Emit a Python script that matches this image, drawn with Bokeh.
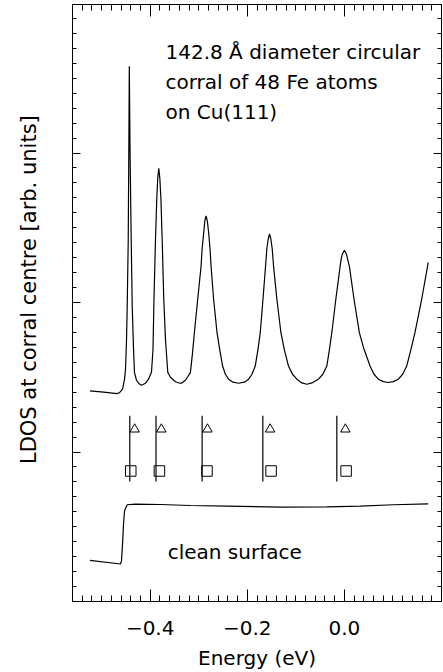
import numpy as np
from bokeh.plotting import figure
from bokeh.models import Label, LinearAxis, FixedTicker, SingleIntervalTicker, Range1d
from bokeh.embed import file_html
from bokeh.resources import INLINE

# ---- data ----
corral_energy = [
    -0.5241, -0.4960, -0.4678, -0.4631, -0.4569, -0.4528, -0.4508, -0.4487, -0.4473, -0.4452,
    -0.4440, -0.4430, -0.4415, -0.4391, -0.4370, -0.4343, -0.4323, -0.4282, -0.4230, -0.4179,
    -0.4097, -0.4035, -0.3973, -0.3942, -0.3922, -0.3891, -0.3865, -0.3845, -0.3823, -0.3801,
    -0.3778, -0.3753, -0.3720, -0.3685, -0.3638, -0.3583, -0.3480, -0.3418, -0.3357, -0.3274,
    -0.3172, -0.3131, -0.3090, -0.3022, -0.2952, -0.2931, -0.2898, -0.2875, -0.2849, -0.2823,
    -0.2795, -0.2767, -0.2746, -0.2693, -0.2623, -0.2569, -0.2508, -0.2452, -0.2384, -0.2294,
    -0.2179, -0.2062, -0.1973, -0.1903, -0.1836, -0.1780, -0.1733, -0.1677, -0.1624, -0.1597,
    -0.1567, -0.1542, -0.1517, -0.1487, -0.1459, -0.1390, -0.1307, -0.1239, -0.1151, -0.1069,
    -0.0978, -0.0876, -0.0773, -0.0670, -0.0534, -0.0444, -0.0362, -0.0308, -0.0259, -0.0177,
    -0.0088, -0.0068, -0.0043, 0.0000, 0.0043, 0.0068, 0.0103, 0.0199, 0.0308, 0.0405,
    0.0528, 0.0610, 0.0699, 0.0802, 0.0904, 0.1007, 0.1110, 0.1200, 0.1283, 0.1371,
    0.1453, 0.1591, 0.1727]
corral_ldos = [
    1.409, 1.400, 1.391, 1.397, 1.420, 1.487, 1.553, 1.753, 1.975, 2.420,
    3.020, 3.580, 3.020, 2.420, 1.975, 1.687, 1.531, 1.480, 1.457, 1.447,
    1.460, 1.487, 1.533, 1.687, 2.020, 2.420, 2.687, 2.830, 2.898, 2.830,
    2.687, 2.420, 2.020, 1.753, 1.533, 1.500, 1.470, 1.463, 1.460, 1.480,
    1.531, 1.653, 1.798, 2.020, 2.242, 2.356, 2.465, 2.545, 2.580, 2.545,
    2.465, 2.356, 2.242, 2.020, 1.798, 1.687, 1.575, 1.520, 1.487, 1.467,
    1.460, 1.467, 1.487, 1.520, 1.575, 1.687, 1.798, 2.020, 2.242, 2.360,
    2.430, 2.458, 2.430, 2.360, 2.242, 2.020, 1.798, 1.687, 1.575, 1.520,
    1.487, 1.462, 1.453, 1.462, 1.487, 1.520, 1.575, 1.687, 1.798, 2.020,
    2.242, 2.288, 2.323, 2.349, 2.323, 2.288, 2.242, 2.020, 1.798, 1.687,
    1.575, 1.520, 1.487, 1.471, 1.465, 1.471, 1.487, 1.520, 1.575, 1.687,
    1.798, 2.020, 2.269]

clean_energy = [-0.5241, -0.4611, -0.4590, -0.4569, -0.4549, -0.4528, -0.4473, -0.4302,
                -0.3788, -0.3172, -0.2417, -0.1322, -0.0362, 0.0323, 0.1007, 0.1727]
clean_ldos = [0.275, 0.251, 0.273, 0.387, 0.520, 0.607, 0.647, 0.651,
              0.649, 0.642, 0.638, 0.631, 0.633, 0.638, 0.647, 0.653]

level_energy = [-0.442, -0.388, -0.293, -0.168, -0.0156]
level_bottom = [0.802] * 5
level_top = [1.242] * 5
triangle_energy = [-0.432, -0.377, -0.282, -0.153, 0.002]
triangle_y = [1.152] * 5
square_energy = [-0.440, -0.381, -0.283, -0.151, 0.0035]
square_y = [0.873] * 5

x_major = [-0.4, -0.2, 0.0]
x_labels = {-0.4: "\u22120.4", -0.2: "\u22120.2", 0.0: "0.0"}
x_minor = [round(v, 2) for v in np.arange(-0.56, 0.2001, 0.02)]

FONT = "DejaVu Sans"

p = figure(width=443, height=672, output_backend="svg", toolbar_location=None,
           x_range=Range1d(-0.56, 0.2), y_range=Range1d(0, 599 / 150),
           min_border_left=72, min_border_right=2, min_border_top=4, min_border_bottom=69,
           x_axis_label="Energy (eV)",
           y_axis_label="\u00a0\u00a0\u00a0\u00a0LDOS at corral centre [arb. units]",
           background_fill_color="white",
           border_fill_color="white", outline_line_color="black", outline_line_width=1)
p.xgrid.visible = False
p.ygrid.visible = False

xt = FixedTicker(ticks=x_major, minor_ticks=x_minor)
yt = SingleIntervalTicker(interval=1, num_minor_ticks=10)

ax = p.xaxis[0]
ax.ticker = xt
ax.major_label_overrides = x_labels
ax.major_tick_in = 12
ax.major_tick_out = 0
ax.minor_tick_in = 6
ax.minor_tick_out = 0
ax.major_label_standoff = 19
ax.major_label_text_font = FONT
ax.major_label_text_font_size = "20px"
ax.major_label_text_color = "black"
ax.axis_label_text_font = FONT
ax.axis_label_text_font_size = "20px"
ax.axis_label_text_font_style = "normal"
ax.axis_label_text_color = "black"
ax.axis_label_standoff = 8
ax.axis_line_color = "black"

ay = p.yaxis[0]
ay.ticker = yt
ay.major_tick_in = 8
ay.major_tick_out = 0
ay.minor_tick_in = 4
ay.minor_tick_out = 0
ay.major_label_text_color = None
ay.major_label_standoff = 0
ay.axis_label_text_font = FONT
ay.axis_label_text_font_size = "21px"
ay.axis_label_text_font_style = "normal"
ay.axis_label_text_color = "black"
ay.axis_label_standoff = 32
ay.axis_line_color = "black"

top = LinearAxis(ticker=xt, major_tick_in=12, major_tick_out=0, minor_tick_in=6, minor_tick_out=0,
                 major_label_text_color=None, major_label_standoff=0, axis_line_color="black")
p.add_layout(top, "above")
right = LinearAxis(ticker=yt, major_tick_in=8, major_tick_out=0, minor_tick_in=4, minor_tick_out=0,
                   major_label_text_color=None, major_label_standoff=0, axis_line_color="black")
p.add_layout(right, "right")

p.line(corral_energy, corral_ldos, line_color="black", line_width=1.2)
p.line(clean_energy, clean_ldos, line_color="black", line_width=1.2)
p.segment(x0=level_energy, y0=level_bottom, x1=level_energy, y1=level_top,
          line_color="black", line_width=1.2)
p.scatter(triangle_energy, triangle_y, marker="triangle", size=9.5, fill_color=None,
          line_color="black", line_width=1)
p.scatter(square_energy, square_y, marker="square", size=10.5, fill_color=None,
          line_color="black", line_width=1)

for txt, yy in [("142.8 \u00c5 diameter circular", 3.676),
                ("corral of 48 Fe atoms", 3.476),
                ("on Cu(111)", 3.276)]:
    p.add_layout(Label(x=-0.3685, y=yy, text=txt, text_font=FONT, text_font_size="20px",
                       text_color="black", text_baseline="alphabetic", text_align="left"))
p.add_layout(Label(x=-0.364, y=0.333, text="clean surface", text_font=FONT,
                   text_font_size="20px", text_color="black", text_baseline="alphabetic",
                   text_align="left"))

open("out.html", "w").write(file_html(p, INLINE))
